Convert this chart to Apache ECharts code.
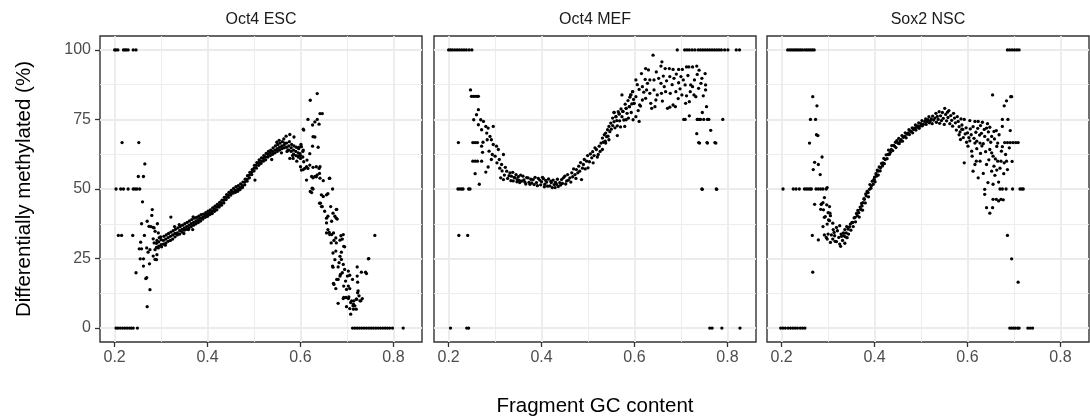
<!DOCTYPE html>
<html><head><meta charset="utf-8">
<script src="https://cdn.jsdelivr.net/npm/echarts@6/dist/echarts.min.js"></script>
<style>html,body{margin:0;padding:0;background:#fff}#c{width:1090px;height:420px}</style>
</head><body><div id="c"></div>
<script>
const panelNames = ['Oct4 ESC', 'Oct4 MEF', 'Sox2 NSC'];
const xMajorTicks = [0.2, 0.4, 0.6, 0.8];
const xMinorTicks = [0.3, 0.5, 0.7];
const yMajorTicks = [0, 25, 50, 75, 100];
const yMinorTicks = [12.5, 37.5, 62.5, 87.5];
const xTitle = 'Fragment GC content';
const yTitle = 'Differentially methylated (%)';

const escPoints = [
[0.2,100],[0.203,100],[0.207,100],[0.219,100],[0.222,100],[0.225,100],[0.229,100],[0.24,100],[0.246,100],
[0.203,0],[0.207,0],[0.212,0],[0.217,0],[0.222,0],[0.227,0],[0.232,0],[0.236,0],[0.24,0],[0.249,0],
[0.712,0],[0.717,0],[0.722,0],[0.727,0],[0.732,0],[0.737,0],[0.742,0],[0.747,0],[0.752,0],[0.757,0],[0.762,0],[0.767,0],[0.772,0],[0.777,0],[0.782,0],[0.787,0],[0.792,0],[0.798,0],[0.821,0],
[0.216,66.7],[0.252,66.7],
[0.203,50],[0.213,50],[0.219,50],[0.229,50],[0.24,50],[0.244,50],[0.248,50],[0.254,50],
[0.208,33.3],[0.215,33.3],[0.239,33.3],
[0.265,59],[0.251,54.5],[0.262,54.5],[0.26,45.4],[0.258,37.5],[0.281,42.6],[0.28,40.5],[0.27,38.4],[0.274,36.6],[0.283,36.2],[0.292,37.5],[0.287,34.8],[0.294,34.2],[0.256,30.9],[0.264,33.3],[0.283,32.1],[0.269,28.8],[0.276,28.2],[0.287,28.2],[0.291,26.4],[0.287,24.7],[0.253,28.5],[0.258,28.5],[0.255,24.9],[0.262,24.9],[0.262,22.3],[0.275,23.1],[0.246,19.9],[0.269,18.1],[0.267,17.8],[0.276,13.8],[0.27,7.7],[0.272,27.3],[0.283,25.9],[0.285,30.6],[0.29,24.6],[0.278,36.5],[0.285,36],
[0.29,30.5],[0.29,29],[0.291,31.5],[0.295,31],[0.295,29.5],[0.296,32.5],[0.294,28.8],[0.3,30],[0.3,31.8],[0.301,29.2],[0.299,32.8],[0.305,31.5],[0.305,30.2],[0.306,33],[0.31,32],[0.31,30.5],[0.311,33.5],[0.309,29.8],[0.315,32.5],[0.315,31.2],[0.316,34],[0.32,33],[0.32,31.5],[0.321,34.5],[0.321,39.9],[0.325,33.5],[0.325,32],[0.326,35],[0.33,34],[0.33,32.8],[0.331,35.5],[0.329,36.5],[0.335,34.2],[0.335,33.5],[0.336,36],[0.34,35],[0.34,33.8],[0.341,36.5],[0.339,37.2],[0.345,35.5],[0.345,34.5],[0.346,37],[0.35,36],[0.35,35.2],[0.351,37.5],[0.349,34],[0.355,36.5],[0.355,35.5],[0.356,38],[0.36,37],[0.36,36],[0.361,38.5],[0.359,35.4],[0.365,37.5],[0.365,36.5],[0.366,39],[0.368,35.4],[0.37,38],[0.37,37],[0.371,39.5],[0.369,40],[0.375,38.5],[0.375,37.5],[0.376,39.8],[0.38,39],[0.38,38],[0.381,40.2],[0.385,39.5],[0.385,38.5],[0.386,40.8],[0.39,40],[0.39,39.2],[0.391,41],[0.395,40.5],[0.395,39.8],[0.396,41.5],[0.4,41],[0.4,40.2],[0.401,42],[0.405,41.5],[0.405,40.8],[0.406,42.5],[0.41,42],[0.41,41.2],[0.411,43.2],[0.415,42.8],[0.415,42],[0.416,43.8],[0.42,43.5],[0.42,42.5],[0.421,44.5],[0.425,44.2],[0.425,43.5],[0.426,45.2],[0.43,45],[0.43,44.2],[0.431,46],[0.435,46],[0.435,45],[0.436,47],[0.44,47],[0.44,46.2],[0.441,48],[0.445,47.8],[0.445,47],[0.446,48.8],[0.45,48.5],[0.45,47.8],[0.451,49.5],[0.455,49],[0.455,48.5],[0.456,50.2],[0.46,49.5],[0.46,48.8],[0.461,50.8],[0.465,50],[0.465,49.2],[0.466,51.2],[0.47,50.5],[0.47,49.8],[0.471,51.8],[0.475,51.2],[0.475,50.5],[0.476,52.5],[0.48,52.5],[0.48,51.5],[0.481,53.5],[0.485,53.5],[0.485,52.8],[0.486,54.8],[0.49,55],[0.49,54],[0.491,56],[0.495,56],[0.495,55.2],[0.496,57],[0.5,57.5],[0.5,56.5],[0.501,58.5],[0.502,53.2],[0.505,58.5],[0.505,57.5],[0.506,59.5],[0.51,59.5],[0.51,58.5],[0.511,60.5],[0.515,60],[0.515,59.2],[0.516,61.2],[0.52,61],[0.52,60],[0.521,62],[0.525,61.5],[0.525,60.5],[0.526,62.8],[0.53,62.5],[0.53,61.5],[0.531,63.5],[0.535,63],[0.535,62],[0.536,64],[0.538,60.6],[0.54,63.5],[0.54,62.5],[0.541,64.8],[0.545,64],[0.545,63],[0.546,65.5],[0.55,64.5],[0.55,63.5],[0.551,66],[0.549,66.8],[0.555,65],[0.555,64],[0.556,66.5],[0.554,67.5],[0.56,65.5],[0.56,64.5],[0.561,67],[0.559,63],[0.565,65.8],[0.565,64.8],[0.566,66.5],[0.564,68],[0.57,65],[0.57,66.5],[0.571,63.5],[0.569,69],[0.575,65.5],[0.575,64],[0.576,67],[0.577,69.6],[0.58,64.8],[0.58,63.5],[0.581,66],[0.585,64],[0.585,62.5],[0.586,65.5],[0.59,63.5],[0.59,62],[0.591,65],[0.595,63],[0.595,61.5],[0.596,64.5],[0.6,62],[0.6,61],[0.601,66],[0.6,58],[0.605,61.5],[0.605,63.5],[0.606,57],[0.606,71.5],
[0.573,64],[0.584,61],[0.595,61.9],[0.602,65.2],[0.606,64],[0.607,59.8],[0.613,58],[0.616,57.4],[0.62,58.6],[0.627,57.8],[0.624,54.5],[0.631,54.5],[0.636,55.1],[0.642,53.9],[0.634,58],[0.64,57.4],[0.649,53],[0.663,53.9],[0.621,49.1],[0.625,50.3],[0.607,71.2],[0.616,75],[0.621,81.9],[0.636,84.3],[0.626,73],[0.631,74.1],[0.636,75],[0.64,73.3],[0.642,77.1],[0.647,77.1],[0.627,68.8],[0.626,65.4],[0.638,65],[0.614,60.4],[0.645,47.9],[0.649,47.3],[0.656,47.9],[0.659,48.3],[0.643,44.9],[0.647,43.7],[0.665,43.7],[0.652,42],[0.659,40.2],[0.656,37.8],[0.667,38.4],[0.677,42.6],[0.674,40.2],[0.679,39.2],[0.662,34.4],[0.667,33.6],[0.671,34.2],[0.676,32.4],[0.677,30.6],[0.685,31.6],[0.692,33.6],[0.695,29.2],[0.688,27.3],[0.676,27.7],[0.67,21.9],[0.681,22],[0.683,23.5],[0.688,24.7],[0.692,22.9],[0.695,21.1],[0.685,18.7],[0.678,17.5],[0.671,16.1],[0.676,14.2],[0.703,20.5],[0.722,22],[0.706,19],[0.712,17.5],[0.697,16.9],[0.703,15.1],[0.706,14.2],[0.722,18.7],[0.731,20.1],[0.74,20.1],[0.746,24.9],[0.724,13.4],[0.726,11.6],[0.72,10.4],[0.715,9.8],[0.708,9.2],[0.703,10.6],[0.698,11],[0.692,10.6],[0.681,8.9],[0.699,7.7],[0.706,7],[0.708,5],[0.713,8],[0.73,9.8],[0.733,10.6],[0.76,33.3],
[0.586,68.7],[0.597,65],[0.592,60],[0.583,62],[0.577,61],[0.599,62.7],[0.609,57.4],[0.602,56.8],[0.613,53.2],[0.627,54],[0.634,54.4],[0.642,58],[0.641,55.6],[0.624,48.7],[0.627,50],[0.62,62.7],[0.631,68.7],
[0.641,44.9],[0.645,43.7],[0.662,53.8],[0.669,50],[0.67,41.3],[0.677,39.5],[0.678,42.7],[0.656,39.5],[0.659,35.4],[0.656,34.2],[0.663,33.6],[0.666,30.6],[0.672,31.5],[0.67,27],[0.687,33.2],[0.69,32],[0.693,29.4],[0.669,22.3],[0.674,24.6],[0.685,25.8],[0.672,15.7],[0.681,17.5],[0.686,19.3],[0.69,19.9],[0.701,18.7],[0.693,15.1],[0.699,13.9],[0.693,11],[0.704,11.2],[0.71,9.8],[0.714,8.6],[0.717,8],[0.721,10.4],[0.723,12.7],[0.72,6.8],[0.714,6.8],[0.728,9.8],[0.742,19.6],[0.723,16.5],[0.747,25]
];

const mefPoints = [
[0.2,100],[0.204,100],[0.208,100],[0.213,100],[0.218,100],[0.223,100],[0.228,100],[0.233,100],[0.238,100],[0.244,100],[0.25,100],
[0.692,100],[0.708,100],[0.713,100],[0.718,100],[0.724,100],[0.73,100],[0.737,100],[0.742,100],[0.747,100],[0.752,100],[0.757,100],[0.762,100],[0.767,100],[0.772,100],[0.777,100],[0.782,100],[0.787,100],[0.794,100],[0.801,100],[0.819,100],[0.826,100],
[0.204,0],[0.239,0],[0.243,0],[0.762,0],[0.767,0],[0.788,0],[0.827,0],
[0.222,33.3],[0.241,33.3],
[0.22,50],[0.224,50],[0.228,50],[0.231,50],[0.243,50],[0.246,50],[0.745,50],[0.776,50],
[0.221,66.7],[0.252,66.7],[0.257,66.7],[0.262,66.7],[0.738,66.7],[0.756,66.7],[0.773,66.7],
[0.706,75],[0.736,75],[0.742,75],[0.749,75],[0.757,75],[0.79,75],
[0.249,83.3],[0.253,83.3],[0.257,83.3],[0.261,83.3],[0.264,83.3],[0.247,85.6],
[0.252,60],[0.257,60],[0.262,60],[0.271,60],
[0.264,78.5],[0.26,76.7],[0.254,74.9],[0.269,74.9],[0.275,74.3],[0.264,73.1],[0.28,72.5],[0.285,71.9],[0.296,72.5],[0.271,71.3],[0.282,70.1],[0.289,68.9],[0.283,67.7],[0.292,67.7],[0.274,66.8],[0.271,65.4],[0.296,66],[0.303,65.4],[0.307,64.2],[0.273,63.2],[0.287,63.6],[0.294,62.4],[0.3,61.8],[0.318,62.4],[0.309,60.6],[0.314,58.8],[0.304,59.4],[0.292,60.6],[0.285,57.9],[0.257,55.5],[0.28,56.1],[0.266,51.7],
[0.31,57.5],[0.312,54],[0.318,53.4],[0.315,56.5],[0.32,55],[0.322,57.8],[0.325,56.4],[0.327,53.8],[0.33,54.8],[0.332,55.8],[0.334,53],[0.335,54.6],[0.338,56],[0.339,52.9],[0.341,54.2],[0.343,54],[0.345,55.2],[0.347,52.6],[0.348,53.4],[0.35,54.4],[0.352,53.1],[0.353,52.3],[0.355,55],[0.357,52.8],[0.36,54.6],[0.362,53.3],[0.364,52.5],[0.366,51.8],[0.368,54.1],[0.371,54],[0.373,52.4],[0.375,51.7],[0.377,53.5],[0.379,52.2],[0.382,53.4],[0.384,51.6],[0.386,54.2],[0.389,52.3],[0.391,51.2],[0.393,53.8],[0.396,53.2],[0.398,51.5],[0.4,52.6],[0.402,54.2],[0.404,53.7],[0.406,50.8],[0.407,51.7],[0.409,53.1],[0.411,52.5],[0.413,51],[0.415,53.6],[0.418,51.1],[0.42,52.8],[0.421,52.3],[0.423,50.5],[0.425,53.2],[0.427,51.6],[0.429,50.5],[0.43,52.4],[0.432,51.7],[0.434,53.5],[0.436,50.9],[0.439,52.3],[0.441,51.4],[0.443,53.4],[0.445,52],[0.447,54],[0.45,54.6],[0.452,51.8],[0.454,52.9],[0.456,55.2],[0.458,53.2],[0.461,54],[0.463,52.5],[0.465,55.8],[0.467,54.4],[0.469,57.2],[0.472,55.2],[0.474,53.8],[0.475,57],[0.478,55.8],[0.48,58.2],[0.482,56.4],[0.484,59.5],[0.486,53.4],[0.488,57.5],[0.49,58.8],[0.492,60.6],[0.494,57.2],[0.497,60],[0.499,62],[0.5,57.6],[0.503,59.8],[0.505,62.6],[0.508,61.2],[0.51,63.4],[0.511,59.4],[0.513,62],[0.515,64.8],[0.518,64.2],[0.52,61.5],[0.522,62.4],[0.524,65.4],[0.526,63.5],[0.528,66.5],[0.531,68.3],[0.531,64.2],[0.533,66.8],[0.535,69.5],[0.537,67.2],[0.538,70.1],[0.538,66.5],[0.54,68.8],[0.542,71.3],[0.543,69],[0.545,72.5],[0.545,67.7],[0.547,70.6],[0.549,73.7],[0.55,71.5],[0.553,75.5],[0.553,72.8],[0.556,77.5],[0.556,74.2],[0.558,72],[0.56,76],[0.562,74.6],[0.563,72.7],[0.563,69.2],[0.565,77.8],[0.567,77],[0.568,74.5],[0.57,72.3],[0.571,78.8],[0.573,83.8],[0.573,76],[0.575,77.9],[0.577,74.8],[0.579,72.5],[0.58,80.5],[0.582,79],[0.582,74.9],[0.584,77.2],[0.586,81.8],[0.587,75.5],[0.589,79.6],[0.59,83],[0.592,83.8],[0.593,77.5],[0.594,80.6],[0.596,85],[0.597,74.9],[0.598,82.2],[0.599,80.8],
[0.64,98.1],[0.659,95.7],[0.624,93.3],[0.647,92.1],[0.657,94.2],[0.666,93.3],[0.675,93.3],[0.683,93],[0.695,93],[0.703,93],[0.712,93.9],[0.717,93.9],[0.725,93.9],[0.734,94.2],[0.739,92.7],[0.745,89.8],[0.752,91.5],[0.753,87.4],[0.753,85.6],[0.743,88],[0.729,89.2],[0.721,87.4],[0.725,86.8],[0.709,87.4],[0.705,89.2],[0.7,90.4],[0.69,91.3],[0.685,89.8],[0.676,90.4],[0.669,88.9],[0.664,86.8],[0.657,88],[0.652,89.8],[0.642,89.2],[0.633,89.2],[0.628,88],[0.623,89.4],[0.617,86.8],[0.603,89.2],[0.61,85.8],[0.626,85.6],[0.633,84.4],[0.642,85.6],[0.649,83.8],[0.658,84.4],[0.667,85],[0.677,84.4],[0.689,85],[0.702,83.8],[0.712,83.5],[0.728,83.8],[0.732,83.2],[0.718,81.4],[0.71,80.8],[0.683,80.2],[0.688,79.6],[0.676,79.4],[0.671,79],[0.646,82],[0.644,79.6],[0.637,79],[0.635,80.8],[0.624,82.6],[0.617,82],[0.611,80.2],[0.603,83.2],[0.596,85],[0.592,83.8],[0.599,80.8],[0.608,78.2],[0.61,74.3],[0.603,76],[0.589,79.6],[0.582,79],[0.575,77.9],[0.567,77],[0.56,76],[0.556,77.5],[0.709,75],[0.718,76.3],[0.735,75],[0.74,75],[0.76,75],[0.746,77.5],[0.755,79.6],[0.734,69.9],[0.764,71.1],[0.74,66.5],[0.757,66.5],[0.775,66.5],[0.746,49.9],[0.777,49.9],
[0.615,91.5],[0.63,92.8],[0.662,90.6],[0.681,87.5],[0.695,88.2],[0.698,86],[0.715,90.8],[0.735,91.2],[0.72,85],[0.606,87.5],[0.62,84.8],[0.613,79.8],[0.66,81.6],[0.694,82.5],[0.738,86.2],[0.748,83.5]
];

const nscPoints = [
[0.213,100],[0.217,100],[0.221,100],[0.225,100],[0.229,100],[0.233,100],[0.237,100],[0.241,100],[0.245,100],[0.25,100],[0.254,100],[0.258,100],[0.262,100],[0.266,100],[0.27,100],
[0.686,100],[0.691,100],[0.696,100],[0.701,100],[0.706,100],[0.711,100],
[0.198,0],[0.203,0],[0.208,0],[0.214,0],[0.219,0],[0.224,0],[0.229,0],[0.234,0],[0.24,0],[0.245,0],[0.25,0],
[0.691,0],[0.695,0],[0.699,0],[0.703,0],[0.708,0],[0.711,0],[0.73,0],[0.735,0],[0.74,0],
[0.203,50],[0.225,50],[0.231,50],[0.238,50],[0.249,50],[0.253,50],[0.257,50],[0.261,50],[0.264,50],[0.274,50],[0.279,50],[0.284,50],[0.289,50],[0.296,50],
[0.67,50],[0.675,50],[0.683,50],[0.697,50],[0.713,50],[0.717,50],[0.72,50],
[0.68,66.7],[0.686,66.7],[0.692,66.7],[0.698,66.7],[0.704,66.7],[0.709,66.7],
[0.262,75],[0.273,75],[0.675,75],[0.687,75],
[0.266,33.3],[0.686,33.3],
[0.267,83.2],[0.276,79.9],[0.275,69.5],[0.278,69.2],[0.26,66.5],[0.287,61.5],[0.271,59.6],[0.279,58.8],[0.268,57],[0.283,55.2],[0.298,50.5],[0.292,46.9],[0.271,44.5],[0.285,44.5],[0.289,45.1],[0.284,42.7],[0.303,43.7],[0.3,41.5],[0.305,40.4],[0.292,39.8],[0.303,38.6],[0.298,37.4],[0.289,36.5],[0.31,37.7],[0.318,36.2],[0.325,36.8],[0.313,34.4],[0.32,35],[0.3,33.8],[0.292,33.5],[0.296,32.6],[0.307,33.5],[0.314,33.2],[0.279,31.7],[0.298,32],[0.305,30.8],[0.31,32],[0.318,31.1],[0.323,32.6],[0.328,33.8],[0.327,29.4],[0.267,20.1],
[0.325,30.2],[0.315,31.2],[0.329,33],[0.333,34.2],[0.336,35.4],[0.34,36.5],[0.311,35.4],[0.301,38.9],[0.29,42.5],[0.297,44.3],[0.304,41.3],[0.294,40.1],[0.286,44.6],
[0.331,31.5],[0.334,33.2],[0.336,30.5],[0.337,32.8],[0.339,34.2],[0.341,32.5],[0.343,35.6],[0.344,33.8],[0.346,36.4],[0.348,37.4],[0.349,35.2],[0.351,37.9],[0.353,38],[0.354,36.5],[0.356,39.6],[0.358,39.8],[0.359,38.2],[0.361,41.2],[0.363,40.4],[0.364,42.3],[0.366,41.5],[0.367,39.9],[0.369,43.5],[0.37,42.7],[0.372,44.8],[0.373,43.9],[0.374,42.4],[0.375,45.1],[0.377,46.5],[0.378,46.3],[0.38,45],[0.381,48.2],[0.382,47.5],[0.384,49.1],[0.386,48.7],[0.387,47.2],[0.389,49.9],[0.39,51.6],[0.392,50.3],[0.393,51.1],[0.395,52.8],[0.397,51.7],[0.399,53.5],[0.4,54.3],[0.401,52.6],[0.403,55.5],[0.404,54.6],[0.406,56.8],[0.407,56.4],[0.408,55],[0.41,57.9],[0.412,56.5],[0.413,57.6],[0.415,59.2],[0.417,58.3],[0.418,59.4],[0.42,61],[0.421,59.1],[0.423,60.6],[0.425,62.3],[0.427,60.9],[0.429,62.4],[0.43,64],[0.432,62.5],[0.434,63.2],[0.436,64.2],[0.437,65.6],[0.439,63.8],[0.441,65.7],[0.443,65.4],[0.445,66.8],[0.446,64.9],[0.448,67.4],[0.45,66.5],[0.452,68.2],[0.453,66.3],[0.455,67.1],[0.457,67.7],[0.459,69.2],[0.46,67.2],[0.462,68.6],[0.465,68.9],[0.466,70.2],[0.468,68.4],[0.47,69.7],[0.472,70.1],[0.474,71.3],[0.475,69.6],[0.477,70.8],[0.479,70.7],[0.481,72],[0.482,70.2],[0.484,71.4],[0.486,71.9],[0.488,73],[0.489,71.2],[0.491,72.2],[0.493,72.7],[0.495,73.8],[0.496,71.8],[0.498,72.6],[0.5,73.5],[0.502,74.6],[0.503,72.7],[0.505,73.3],[0.508,74.3],[0.51,75.2],[0.511,73.2],[0.513,74.2],[0.515,74.9],[0.517,76],[0.518,73.8],[0.52,74.5],[0.522,75.2],[0.524,73.5],[0.525,76.2],[0.527,74.8],[0.53,75.5],[0.532,77.2],[0.533,74],[0.535,76.1],[0.537,75],[0.539,77.8],[0.54,73.6],[0.542,76.3],[0.544,74.6],[0.546,77.5],[0.548,75.4],[0.55,73.2],[0.551,79],[0.553,76.8],[0.555,74.5],[0.557,77.6],[0.558,75.7],[0.56,78.2],[0.562,73.5],[0.564,76.4],[0.566,74.7],[0.568,72.6],[0.57,77.2],[0.572,75.5],[0.574,73.8],[0.576,71.2],[0.578,76],[0.58,74.3],[0.582,72.4],[0.584,70.5],[0.586,75.2],[0.588,73],[0.59,71.4],[0.591,68.5],
[0.593,75],[0.605,74.6],[0.616,74.3],[0.623,74.3],[0.632,74],[0.643,73.5],[0.641,71.9],[0.657,70.7],[0.662,71],[0.675,72.5],[0.654,83.8],[0.679,79.9],[0.684,81.7],[0.693,83.2],[0.695,83.2],[0.593,59.4],[0.612,56.4],[0.616,58.8],[0.619,60],[0.623,54],[0.627,60],[0.634,55.6],[0.641,58.8],[0.609,63.6],[0.616,66.5],[0.627,66.5],[0.634,66.3],[0.61,61.8],[0.601,65.4],[0.598,66.8],[0.637,49.9],[0.637,48.1],[0.644,52.3],[0.652,56.4],[0.655,51.7],[0.659,54.9],[0.667,52.5],[0.641,43.3],[0.654,43.3],[0.648,41.3],[0.655,46.3],[0.662,46.3],[0.667,45.7],[0.672,46.3],[0.677,46.1],[0.648,64.2],[0.652,63],[0.655,61.8],[0.66,60.8],[0.665,60],[0.672,60],[0.679,59.4],[0.684,60],[0.696,59.9],[0.673,63.6],[0.682,62.4],[0.665,66.5],[0.686,57],[0.652,68.9],[0.637,68.9],[0.63,70],[0.644,67.7],[0.695,24.9],[0.709,16.5],
[0.582,69.5],[0.585,67.8],[0.588,71.5],[0.595,69.8],[0.597,72],[0.6,70.2],[0.603,68.5],[0.606,71.6],[0.608,69.5],[0.612,72.4],[0.614,68.2],[0.618,70.4],[0.62,67.2],[0.622,71.8],[0.626,69.4],[0.628,72.8],[0.631,65.5],[0.636,71.4],[0.639,63.4],[0.645,70.5],[0.648,72.2],[0.65,66.8],[0.658,68],[0.663,65.3],[0.668,69.5],[0.67,57.5],[0.675,65.2],[0.678,55.5],[0.69,64.8],[0.692,71],[0.663,56.8],[0.657,58.2],[0.646,60.5],[0.628,62.8],[0.62,64.5],[0.605,67.3]
];

const panelData = [escPoints, mefPoints, nscPoints];

const FONT = '"Liberation Sans", Arial, Helvetica, sans-serif';
const gridLefts = [100, 434, 767];
const gridW = 322, gridTop = 36, gridH = 306;
const X_MIN = 0.1685, X_MAX = 0.8615, Y_MIN = -5, Y_MAX = 105;

const grids = [], xAxes = [], yAxes = [], series = [], graphics = [];
gridLefts.forEach((left, i) => {
  grids.push({ left: left, top: gridTop, width: gridW, height: gridH, show: true,
    borderColor: '#333333', borderWidth: 1.4, backgroundColor: 'transparent', containLabel: false });
  xAxes.push({ gridIndex: i, type: 'value', position: 'bottom', min: X_MIN, max: X_MAX,
    axisLine: { show: false, onZero: false },
    axisTick: { show: true, customValues: xMajorTicks, length: 5, inside: false, lineStyle: { color: '#333333', width: 1.3 } },
    axisLabel: { show: true, customValues: xMajorTicks, formatter: v => v.toFixed(1), color: '#4d4d4d', fontSize: 16, fontFamily: FONT, margin: 8 },
    splitLine: { show: true, lineStyle: { color: '#ebebeb', width: 1.8 } },
    minorTick: { show: false }, minorSplitLine: { show: false } });
  xAxes.push({ gridIndex: i, type: 'value', position: 'top', min: X_MIN, max: X_MAX,
    axisLine: { show: false, onZero: false },
    axisTick: { show: false, customValues: xMinorTicks },
    axisLabel: { show: false, customValues: xMinorTicks },
    splitLine: { show: true, lineStyle: { color: '#ebebeb', width: 0.9 } } });
  yAxes.push({ gridIndex: i, type: 'value', position: 'left', min: Y_MIN, max: Y_MAX,
    axisLine: { show: false, onZero: false },
    axisTick: { show: i === 0, customValues: yMajorTicks, length: 5, inside: false, lineStyle: { color: '#333333', width: 1.3 } },
    axisLabel: { show: i === 0, customValues: yMajorTicks, color: '#4d4d4d', fontSize: 16, fontFamily: FONT, margin: 9 },
    splitLine: { show: true, lineStyle: { color: '#ebebeb', width: 1.8 } } });
  yAxes.push({ gridIndex: i, type: 'value', position: 'right', min: Y_MIN, max: Y_MAX,
    axisLine: { show: false, onZero: false },
    axisTick: { show: false, customValues: yMinorTicks },
    axisLabel: { show: false, customValues: yMinorTicks },
    splitLine: { show: true, lineStyle: { color: '#ebebeb', width: 0.9 } } });
  series.push({ type: 'scatter', name: panelNames[i], xAxisIndex: 2 * i, yAxisIndex: 2 * i,
    data: panelData[i], symbol: 'circle', symbolSize: 3.3, itemStyle: { color: '#000000', opacity: 1 },
    silent: true, z: 3 });
  graphics.push({ type: 'text', x: left + gridW / 2, y: 20,
    style: { text: panelNames[i], fill: '#1a1a1a', font: '16px ' + FONT, textAlign: 'center', textVerticalAlign: 'middle' } });
});

graphics.push({ type: 'text', x: 595, y: 406,
  style: { text: xTitle, fill: '#000000', font: '20.5px ' + FONT, textAlign: 'center', textVerticalAlign: 'middle' } });
graphics.push({ type: 'text', x: 24, y: 189, rotation: Math.PI / 2,
  style: { text: yTitle, fill: '#000000', font: '20.5px ' + FONT, textAlign: 'center', textVerticalAlign: 'middle' } });

const chart = echarts.init(document.getElementById('c'), null, { renderer: 'canvas', width: 1090, height: 420 });
chart.setOption({
  animation: false,
  backgroundColor: '#ffffff',
  grid: grids,
  xAxis: xAxes,
  yAxis: yAxes,
  series: series,
  graphic: graphics
});
</script></body></html>
